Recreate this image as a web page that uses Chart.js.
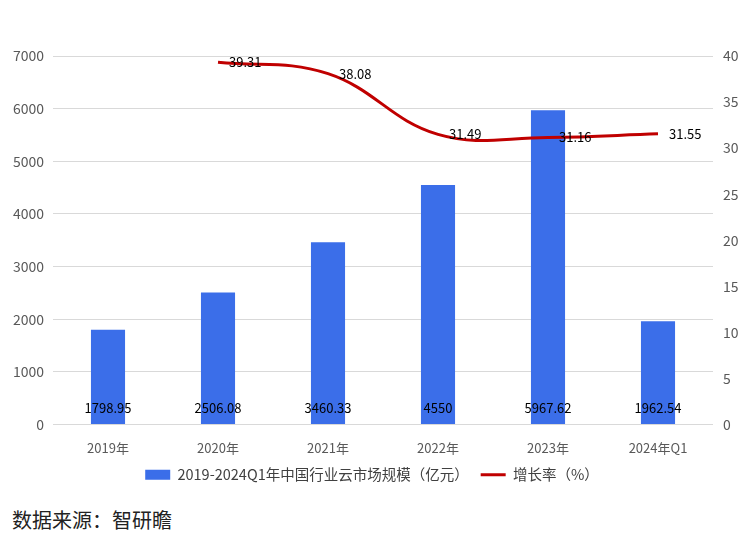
<!DOCTYPE html>
<html>
<head>
<meta charset="utf-8">
<script src="https://cdn.jsdelivr.net/npm/chart.js@4.4.1/dist/chart.umd.min.js"></script>
<style>
  html, body { margin: 0; padding: 0; background: #fff; }
  #wrap { position: relative; width: 744px; height: 533px; }
  #chart { position: absolute; left: 0; top: 0; }
  #source { position: absolute; left: 12px; top: 505px; font: 20px "Noto Sans CJK SC", sans-serif; color: #222; }
</style>
</head>
<body>
<div id="wrap">
  <canvas id="chart" width="744" height="492"></canvas>
  <div id="source">数据来源：智研瞻</div>
</div>
<script>
// ── data ──
const years      = ['2019年', '2020年', '2021年', '2022年', '2023年', '2024年Q1'];
const marketSize = [1798.95, 2506.08, 3460.33, 4550, 5967.62, 1962.54];
const growthRate = [null, 39.31, 38.08, 31.49, 31.16, 31.55];
const sizeLabel  = '2019-2024Q1年中国行业云市场规模（亿元）';
const rateLabel  = '增长率（%）';

const FONT = '"Noto Sans CJK SC", "Noto Sans", sans-serif';
const BAR_COLOR  = '#3b6ee9';
const LINE_COLOR = '#c00000';
const TICK_COLOR = '#595959';
const GRID_COLOR = '#d9d9d9';

// Bar values sit just above the base, line values to the right of each point.
const valueLabels = {
  id: 'valueLabels',
  afterDatasetsDraw(chart) {
    const { ctx } = chart;
    const base = chart.scales.y.getPixelForValue(0);
    ctx.save();
    ctx.fillStyle = '#000';
    ctx.font = '13px ' + FONT;
    ctx.textBaseline = 'middle';

    ctx.textAlign = 'center';
    chart.getDatasetMeta(0).data.forEach((el, i) => {
      ctx.fillText(String(marketSize[i]), el.x, base - 16);
    });

    ctx.textAlign = 'left';
    chart.getDatasetMeta(1).data.forEach((pt, i) => {
      if (growthRate[i] == null) return;
      ctx.fillText(growthRate[i].toFixed(2), pt.x + 11, pt.y);
    });
    ctx.restore();
  }
};

new Chart(document.getElementById('chart'), {
  data: {
    labels: years,
    datasets: [
      {
        type: 'bar',
        label: sizeLabel,
        data: marketSize,
        backgroundColor: BAR_COLOR,
        borderWidth: 0,
        barPercentage: 0.31,
        categoryPercentage: 1,
        yAxisID: 'y',
        pointStyle: 'rect',
        order: 1,
      },
      {
        type: 'line',
        label: rateLabel,
        data: growthRate,
        borderColor: LINE_COLOR,
        backgroundColor: LINE_COLOR,
        borderWidth: 3,
        tension: 0.4,
        pointRadius: 0,
        pointStyle: 'line',
        spanGaps: false,
        yAxisID: 'y1',
        order: 0,
      },
    ],
  },
  options: {
    responsive: false,
    animation: false,
    layout: { padding: { top: 56, left: 0, right: 0, bottom: 0 } },
    plugins: {
      tooltip: { enabled: false },
      legend: {
        position: 'bottom',
        labels: {
          usePointStyle: true,
          pointStyleWidth: 25,
          boxHeight: 10,
          padding: 12,
          color: '#404040',
          font: { family: FONT, size: 14.5 },
          sort: (a, b) => a.datasetIndex - b.datasetIndex,
        },
      },
    },
    scales: {
      x: {
        grid: { display: false },
        border: { display: false },
        ticks: { color: TICK_COLOR, font: { family: FONT, size: 13 }, padding: 8 },
        afterFit: s => { s.height = 31; },
      },
      y: {
        position: 'left',
        min: 0, max: 7000,
        ticks: { stepSize: 1000, color: TICK_COLOR, font: { family: FONT, size: 14 }, padding: 9, callback: v => String(v) },
        grid: { color: GRID_COLOR, drawTicks: false },
        border: { display: false },
        afterFit: s => { s.width = 53; },
      },
      y1: {
        position: 'right',
        min: 0, max: 40,
        ticks: { stepSize: 5, color: TICK_COLOR, font: { family: FONT, size: 14 }, padding: 10, callback: v => String(v) },
        grid: { drawOnChartArea: false, drawTicks: false },
        border: { display: false },
        afterFit: s => { s.width = 31; },
      },
    },
  },
  plugins: [valueLabels],
});
</script>
</body>
</html>
